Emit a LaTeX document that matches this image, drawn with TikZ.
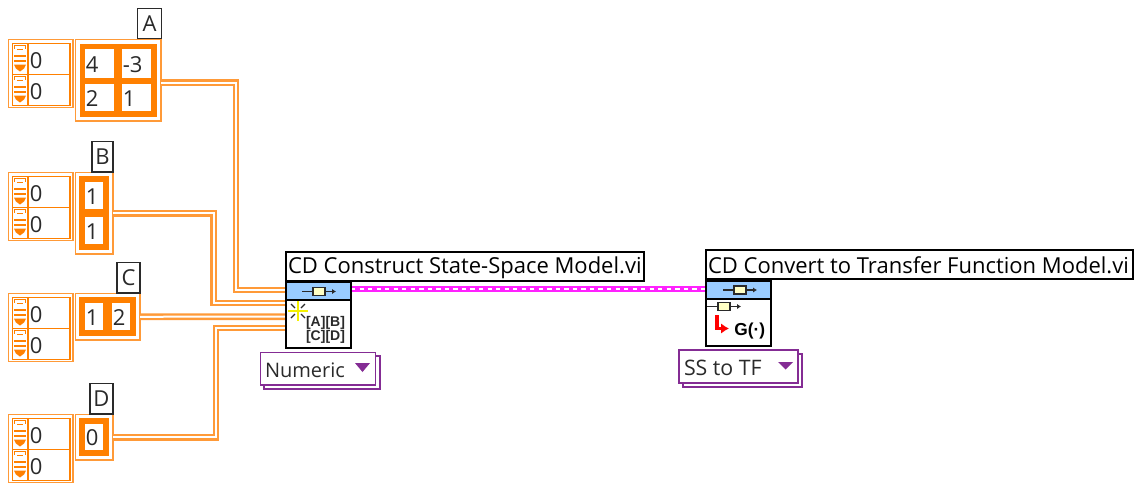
\documentclass[tikz,border=0pt]{standalone}
\usepackage{fontspec}
\setmainfont{Open Sans}
\newfontfamily\boldfam{Liberation Sans}
\usetikzlibrary{arrows.meta,calc}
\definecolor{lvor}{HTML}{FF8000}
\definecolor{lvwire}{HTML}{FF9A38}
\definecolor{lvblue}{HTML}{99CCFF}
\definecolor{lvyel}{HTML}{FFFFC4}
\definecolor{lvpur}{HTML}{842C94}
\definecolor{lvink}{HTML}{2A2A2A}
\definecolor{lvpink}{HTML}{FF22FF}
\definecolor{lvstar}{HTML}{F4F000}
\tikzset{
  pxbox/.style={inner sep=0pt,outer sep=0pt,anchor=center},
  shellbox/.style={pxbox,draw=lvwire,line width=1.2pt,fill=white},
  corebox/.style={pxbox,fill=lvor},
  cellb/.style={pxbox,fill=white},
  digit/.style={inner sep=0pt,outer sep=0pt,anchor=west,text=lvink,font=\fontsize{16.5}{18}\selectfont},
  tagbox/.style={pxbox,draw=lvink,line width=1.2pt,fill=white,text=lvink,font=\fontsize{16.5}{18}\selectfont},
  viname/.style={pxbox,draw=lvink,line width=1.2pt,fill=white,draw=black},
  vitext/.style={inner sep=0pt,outer sep=0pt,anchor=west,text=black,font=\fontsize{16.5}{18}\selectfont},
  wire/.style={draw=lvwire,line width=1.8pt,double=white,double distance=1.5pt},
  sel/.style={pxbox,draw=lvpur,line width=1.2pt,fill=white},
  seltext/.style={inner sep=0pt,outer sep=0pt,anchor=west,text=lvink,font=\fontsize{16}{18}\selectfont},
}
% generic rectangle node in pixel coordinates: style, name, x1, y1, x2, y2, text
\newcommand{\pxrect}[7]{\node[#1,minimum width={((#5)-(#3))*0.75pt},minimum height={((#6)-(#4))*0.75pt}] (#2) at ({((#3)+(#5))/2},{((#4)+(#6))/2}) {#7};}
\newcommand{\valcell}[6]{\pxrect{cellb}{#1}{#2}{#3}{#4}{#5}{}\node[digit] (#1t) at ([xshift=0.6pt,yshift=-0.75pt]#1.west) {#6};}
% array index block
\newcommand{\stepper}[2]{%
  \draw[lvor,line width=0.9pt] (14.5,#2+8) -- (14.5,#2+5) -- (25.5,#2+5) -- (25.5,#2+8);
  \draw[lvor,line width=0.9pt] (17,#2+9) -- (23,#2+9);
  \fill[lvor] (14,#2+14) rectangle (26,#2+16);
  \fill[lvor] (14,#2+19) rectangle (26,#2+21);
  \fill[lvor] (14,#2+24) -- (26,#2+24) -- (24,#2+28) -- (20,#2+31) -- (16,#2+28) -- cycle;
}
\newcommand{\indexblock}[2]{%
  \pxrect{shellbox}{#1o}{8.5}{#2}{73}{#2+68}{}
  \draw[lvor,line width=1.2pt] (12.5,#2+66) -- (12.5,#2+4) -- (70,#2+4) -- (70,#2+66) -- cycle;
  \draw[lvor,line width=1.2pt] (28,#2+4) -- (28,#2+66);
  \draw[lvor,line width=1.2pt] (12.5,#2+35) -- (70,#2+35);
  \stepper{#1}{#2+1}
  \stepper{#1}{#2+32}
  \valcell{#1a}{29}{#2+7}{69}{#2+34}{0}
  \valcell{#1b}{29}{#2+38}{69}{#2+65}{0}
}
\newcommand{\ssicon}[2]{%
  \draw[lvink,line width=1pt,-{Latex[length=3pt,width=4pt]}] (#1-17,#2) -- (#1+17,#2);
  \draw[lvink,line width=0.9pt,fill=lvyel] (#1-6,#2-4) rectangle (#1+6,#2+4);
}
\begin{document}
\begin{tikzpicture}[x=0.75pt,y=-0.75pt]
\useasboundingbox (0,0) rectangle (1135,483);
\fill[white] (0,0) rectangle (1135,483);
% terminals
\coordinate (wa) at (161,82.5);
\coordinate (wat) at (236,290);
\coordinate (wbt) at (213.5,303);
\coordinate (wct) at (286,316.7);
\coordinate (wdt) at (216,328);
\coordinate (ta) at (286,290);
\coordinate (tb) at (286,303);
\coordinate (td) at (286,328);
\coordinate (pa) at (351,289.3);
\coordinate (pb) at (706,289.3);
% matrix A
\pxrect{shellbox}{ma}{75.5}{39.5}{161}{121}{}
\pxrect{corebox}{mai}{80}{44}{157}{117}{}
\valcell{a11}{85}{49}{114}{78}{4}
\valcell{a12}{122}{49}{151}{78}{-3}
\valcell{a21}{85}{84}{114}{111}{2}
\valcell{a22}{122}{84}{151}{111}{1}
\pxrect{tagbox}{la}{137.5}{8.5}{161.5}{38.5}{A}
\indexblock{ia}{39.5}
% matrix B
\pxrect{shellbox}{mb}{75.5}{172.5}{113}{254}{}
\pxrect{corebox}{mbi}{79}{176}{109}{250}{}
\valcell{b1}{85}{182}{103}{209}{1}
\valcell{b2}{85}{217}{103}{244}{1}
\pxrect{tagbox}{lb}{92}{141.5}{113}{172}{B}
\indexblock{ib}{172.5}
% matrix C
\pxrect{shellbox}{mc}{75.5}{293.5}{140}{340}{}
\pxrect{corebox}{mci}{79}{297}{136}{336}{}
\valcell{c1}{85}{303}{103}{330}{1}
\valcell{c2}{112}{303}{130}{330}{2}
\pxrect{tagbox}{lc}{117}{262.5}{140}{293}{C}
\indexblock{ic}{293.5}
% matrix D
\pxrect{shellbox}{md}{75.5}{414.5}{113}{460}{}
\pxrect{corebox}{mdi}{79}{418}{109}{456}{}
\valcell{d1}{85}{424}{103}{450}{0}
\pxrect{tagbox}{ld}{90}{383.5}{113}{414}{D}
\indexblock{id}{414.5}
% wires
\draw[wire] (wa) -| (wat) -- (ta);
\draw[wire] (mb.east) -| (wbt) -- (tb);
\draw[wire] (mc.east) -- (wct);
\draw[wire] (md.east) -| (wdt) -- (td);
\draw[draw=lvpink,line width=4.4pt] (pa) -- (pb);
\draw[white,line width=1.4pt,dash pattern=on 3.2pt off 3.2pt] (pa) -- (pb);
% VI 1
\pxrect{viname}{n1}{286}{252}{644}{281}{}
\node[vitext] (n1t) at (288,267.5) {CD Construct State-Space Model.vi};
\pxrect{pxbox,draw=black,line width=1.5pt,fill=white}{v1}{286}{282}{351}{348}{}
\pxrect{pxbox,draw=black,line width=1.5pt,fill=lvblue}{h1}{286}{282}{351}{300}{}
\ssicon{319}{291.5}
\draw[lvstar,line width=1.5pt] (288,311) -- (308,311) (298,301) -- (298,321);
\draw[lvink,line width=0.9pt] (291,304) -- (295,308) (305,304) -- (301,308) (291,318) -- (295,314) (305,318) -- (301,314);
\node[inner sep=0pt,align=center,text=lvink,font=\boldfam\bfseries\fontsize{10.5}{10.5}\selectfont] (abcd) at (325.5,330) {[A][B]\\[0pt][C][D]};
% VI 2
\pxrect{viname}{n2}{706}{250}{1133}{279}{}
\node[vitext] (n2t) at (708,265.5) {CD Convert to Transfer Function Model.vi};
\pxrect{pxbox,draw=black,line width=1.5pt,fill=white}{v2}{706}{281}{771}{346}{}
\pxrect{pxbox,draw=black,line width=1.5pt,fill=lvblue}{h2}{706}{281}{771}{299}{}
\ssicon{740}{290}
\ssicon{724}{306.5}
\draw[red,line width=2.4pt,-{Latex[length=6pt,width=8pt]}] (717,315) -- (717,328.5) -- (729,328.5);
\node[inner sep=0pt,anchor=west,text=black,font=\boldfam\bfseries\fontsize{13}{13}\selectfont] (gdot) at (734,331) {G(·)};
% selector 1
\pxrect{sel}{s1s}{264}{356}{380}{389}{}
\pxrect{sel}{s1}{260.5}{352.5}{375.5}{385}{}
\node[seltext,font=\fontsize{15}{18}\selectfont] (s1t) at (265,370) {Numeric};
\fill[lvpur] (355,363) -- (370,363) -- (362.5,372) -- cycle;
% selector 2
\pxrect{sel}{s2s}{683}{354}{802}{387}{}
\pxrect{sel}{s2}{679}{350}{798}{383}{}
\node[seltext] (s2t) at (684,368) {SS to TF};
\fill[lvpur] (778,362) -- (793,362) -- (785.5,369.5) -- cycle;
\end{tikzpicture}
\end{document}
